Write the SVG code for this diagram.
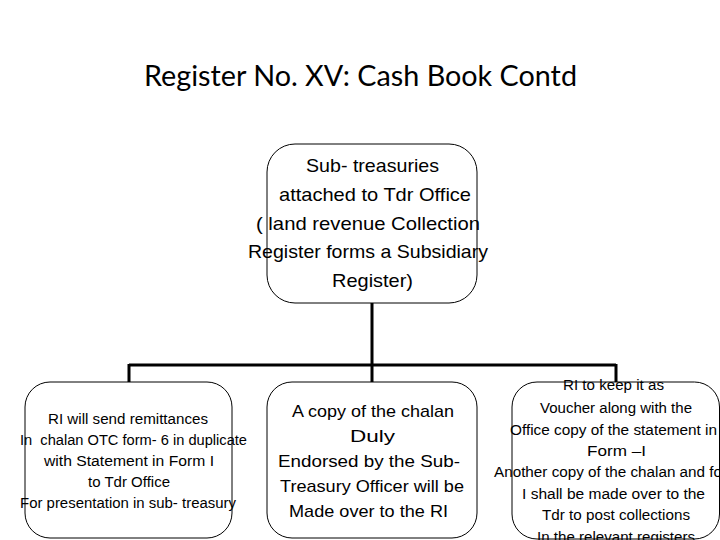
<svg xmlns="http://www.w3.org/2000/svg" width="720" height="540" viewBox="0 0 720 540">
<style>
.box{fill:#fff;stroke:#000;stroke-width:1}
.t{font-family:"Liberation Sans",Arial,sans-serif;fill:#000}
.t19{font-size:19px}
.t17{font-size:17px}
.t14{font-size:14px}
.title{font-family:Lato,"Open Sans",sans-serif;font-size:29px;fill:#000}
.c{stroke:#000;stroke-width:3;fill:none}
</style>
<rect width="720" height="540" fill="#fff"/>
<text class="title" x="144" y="86" textLength="433" lengthAdjust="spacingAndGlyphs">Register No. XV: Cash Book Contd</text>
<g id="connectors">
<path class="c" d="M372,303 V365 M129,365 H616 M129,364 V382 M372,365 V382 M616,364 V382"/>
</g>
<g id="top">
<rect class="box" x="267" y="144" width="210" height="159" rx="28"/>
<text class="t t19" x="306" y="172" textLength="133" lengthAdjust="spacingAndGlyphs">Sub- treasuries</text>
<text class="t t19" x="279" y="201" textLength="192" lengthAdjust="spacingAndGlyphs">attached to Tdr Office</text>
<text class="t t19" x="256" y="230" textLength="224" lengthAdjust="spacingAndGlyphs">( land revenue Collection</text>
<text class="t t19" x="248" y="258" textLength="240" lengthAdjust="spacingAndGlyphs">Register forms a Subsidiary</text>
<text class="t t19" x="332" y="287" textLength="81" lengthAdjust="spacingAndGlyphs">Register)</text>
</g>
<g id="left">
<rect class="box" x="25" y="382" width="207" height="156" rx="25"/>
<text class="t t14" x="48" y="424" textLength="160" lengthAdjust="spacingAndGlyphs">RI will send remittances</text>
<text class="t t14" x="20" y="445" textLength="227" lengthAdjust="spacingAndGlyphs">In&#160; chalan OTC form- 6 in duplicate</text>
<text class="t t14" x="44" y="466" textLength="170" lengthAdjust="spacingAndGlyphs">with Statement in Form I</text>
<text class="t t14" x="88" y="487" textLength="82" lengthAdjust="spacingAndGlyphs">to Tdr Office</text>
<text class="t t14" x="20" y="508" textLength="216" lengthAdjust="spacingAndGlyphs">For presentation in sub- treasury</text>
</g>
<g id="middle">
<rect class="box" x="267" y="382" width="210" height="156" rx="25"/>
<text class="t t17" x="292" y="417" textLength="162" lengthAdjust="spacingAndGlyphs">A copy of the chalan</text>
<text class="t t17" x="350" y="442" textLength="45" lengthAdjust="spacingAndGlyphs">Duly</text>
<text class="t t17" x="278" y="467" textLength="182" lengthAdjust="spacingAndGlyphs">Endorsed by the Sub-</text>
<text class="t t17" x="280" y="492" textLength="184" lengthAdjust="spacingAndGlyphs">Treasury Officer will be</text>
<text class="t t17" x="289" y="517" textLength="159" lengthAdjust="spacingAndGlyphs">Made over to the RI</text>
</g>
<g id="right">
<rect class="box" x="512" y="382" width="207.5" height="157" rx="25"/>
<text class="t t14" x="563" y="390" textLength="101" lengthAdjust="spacingAndGlyphs">RI to keep it as</text>
<text class="t t14" x="540" y="413" textLength="152" lengthAdjust="spacingAndGlyphs">Voucher along with the</text>
<text class="t t14" x="510" y="435" textLength="207" lengthAdjust="spacingAndGlyphs">Office copy of the statement in</text>
<text class="t t14" x="587" y="456" textLength="59" lengthAdjust="spacingAndGlyphs">Form –I</text>
<text class="t t14" x="494" y="477" textLength="228" lengthAdjust="spacingAndGlyphs">Another copy of the chalan and fo</text>
<text class="t t14" x="522" y="499" textLength="183" lengthAdjust="spacingAndGlyphs">I shall be made over to the</text>
<text class="t t14" x="542" y="520" textLength="148" lengthAdjust="spacingAndGlyphs">Tdr to post collections</text>
<text class="t t14" x="537" y="542" textLength="158" lengthAdjust="spacingAndGlyphs">In the relevant registers</text>
</g>
</svg>
